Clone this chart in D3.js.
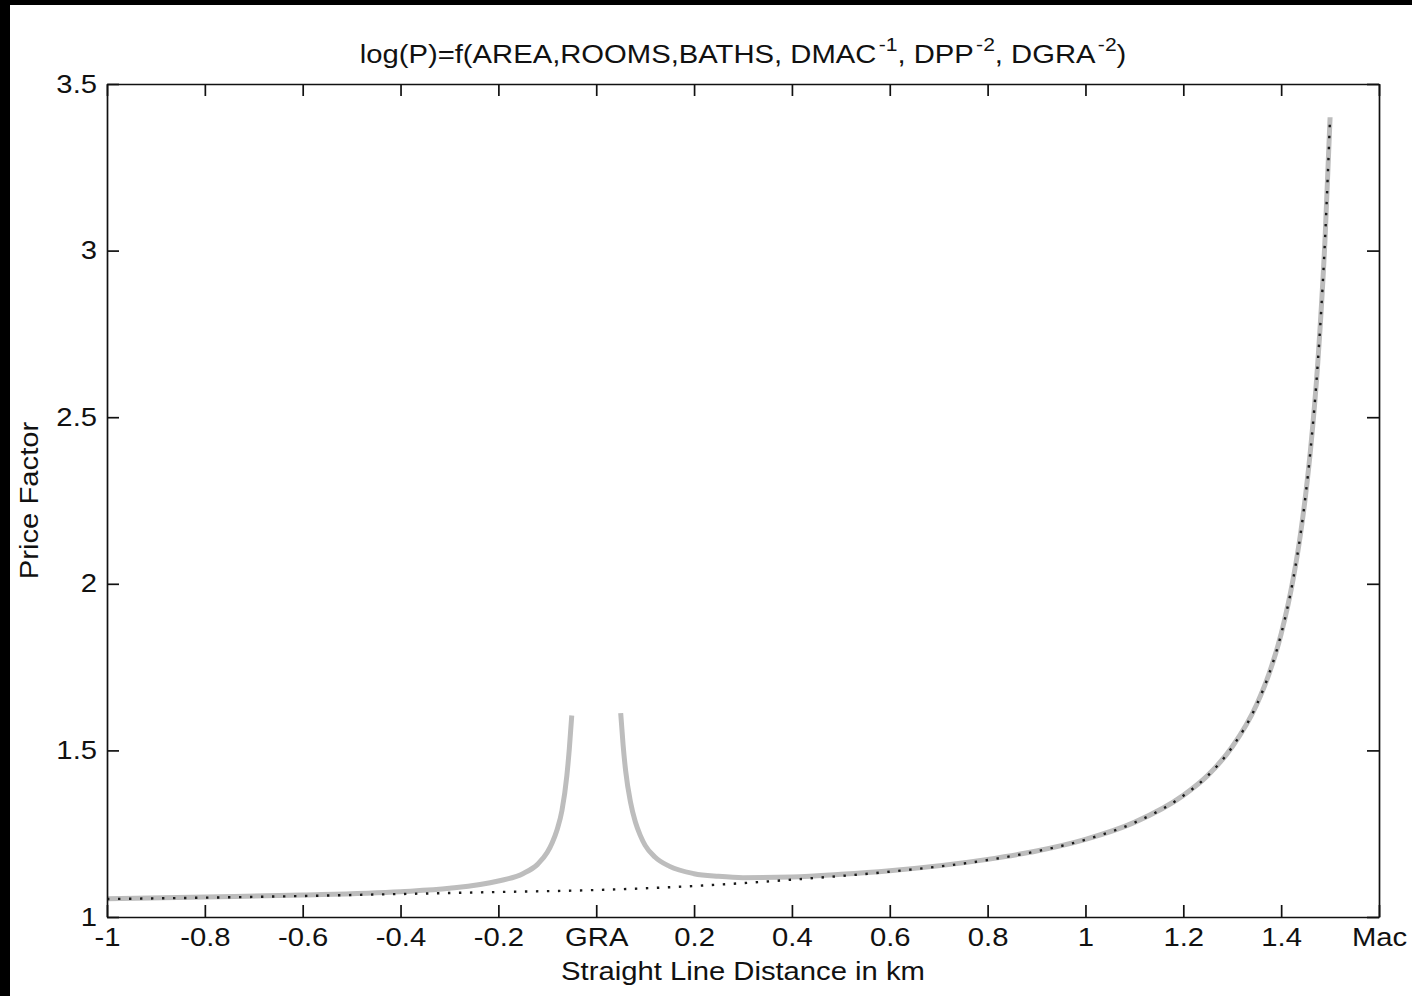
<!DOCTYPE html>
<html>
<head>
<meta charset="utf-8">
<script src="https://cdn.jsdelivr.net/npm/d3@7"></script>
<style>
  body { margin: 0; background: #000; }
  text { font-family: "Liberation Sans", Arial, Helvetica, sans-serif; fill: #111; }
</style>
</head>
<body>
<div id="chart"></div>
<script>
// distance from GRA (km), Mac sits at 1.6
let baseX = [-1, -0.8, -0.6, -0.4, -0.2, 0, 0.2, 0.4, 0.6, 0.8, 0.9, 1.0, 1.1, 1.2, 1.25, 1.3, 1.35, 1.375, 1.4, 1.425, 1.44, 1.45, 1.46, 1.475, 1.49, 1.5];
let baseY = [1.054, 1.058, 1.063, 1.069, 1.075, 1.081, 1.093, 1.112, 1.136, 1.171, 1.197, 1.232, 1.283, 1.364, 1.424, 1.510, 1.637, 1.728, 1.849, 2.017, 2.153, 2.266, 2.401, 2.665, 3.044, 3.400];

let graLeftX = [-1, -0.8, -0.6, -0.4, -0.3, -0.2, -0.15, -0.12, -0.1, -0.09, -0.08, -0.07, -0.06, -0.055, -0.05];
let graLeftY = [1.055, 1.060, 1.066, 1.076, 1.086, 1.108, 1.130, 1.158, 1.194, 1.223, 1.262, 1.320, 1.425, 1.505, 1.605];

let graRightX = [0.05, 0.055, 0.06, 0.07, 0.08, 0.09, 0.1, 0.12, 0.15, 0.2, 0.25, 0.3, 0.4, 0.5, 0.6, 0.8, 0.9, 1.0, 1.1, 1.2, 1.25, 1.3, 1.35, 1.375, 1.4, 1.425, 1.44, 1.45, 1.46, 1.475, 1.49, 1.5];
let graRightY = [1.612, 1.515, 1.440, 1.345, 1.285, 1.245, 1.215, 1.180, 1.152, 1.130, 1.122, 1.118, 1.120, 1.128, 1.139, 1.173, 1.198, 1.233, 1.284, 1.365, 1.425, 1.511, 1.638, 1.729, 1.850, 2.018, 2.154, 2.267, 2.402, 2.666, 3.045, 3.400];

let xTicks = [-1, -0.8, -0.6, -0.4, -0.2, 0, 0.2, 0.4, 0.6, 0.8, 1, 1.2, 1.4, 1.6];
let xTickLabels = ["-1", "-0.8", "-0.6", "-0.4", "-0.2", "GRA", "0.2", "0.4", "0.6", "0.8", "1", "1.2", "1.4", "Mac"];
let yTicks = [1, 1.5, 2, 2.5, 3, 3.5];
let yTickLabels = ["1", "1.5", "2", "2.5", "3", "3.5"];

let W = 1412, H = 996;
let stretch = 1.17;

let svg = d3.select("#chart").append("svg")
    .attr("width", W)
    .attr("height", H)
    .style("display", "block");

// scan border, black at top and left
svg.append("rect").attr("width", W).attr("height", H).attr("fill", "#000");
svg.append("rect").attr("x", 10).attr("y", 5).attr("width", W - 10).attr("height", H - 5).attr("fill", "#fff");

let x = d3.scaleLinear().domain([-1, 1.6]).range([107, 1379]);
let y = d3.scaleLinear().domain([1, 3.5]).range([917, 84]);

let line = d3.line()
    .x(d => x(d[0]))
    .y(d => y(d[1]))
    .curve(d3.curveMonotoneX);

let graLeft = graLeftX.map((v, i) => [v, graLeftY[i]]);
let graRight = graRightX.map((v, i) => [v, graRightY[i]]);
let base = baseX.map((v, i) => [v, baseY[i]]);

[graLeft, graRight].forEach(seg => {
    svg.append("path")
        .attr("d", line(seg))
        .attr("fill", "none")
        .attr("stroke", "#bdbdbd")
        .attr("stroke-width", 5);
});

svg.append("path")
    .attr("d", line(base))
    .attr("fill", "none")
    .attr("stroke", "#1a1a1a")
    .attr("stroke-width", 2.4)
    .attr("stroke-dasharray", "2.4 8.6");

// axes, ticks pointing inward on all four sides
let tickLen = 12;

let gx = svg.append("g")
    .attr("transform", "translate(0," + y(1) + ")")
    .call(d3.axisBottom(x).tickValues(xTicks)
        .tickFormat((d, i) => xTickLabels[i])
        .tickSizeInner(-tickLen).tickSizeOuter(0).tickPadding(11));

let gxt = svg.append("g")
    .attr("transform", "translate(0," + y(3.5) + ")")
    .call(d3.axisTop(x).tickValues(xTicks).tickFormat("")
        .tickSizeInner(-tickLen).tickSizeOuter(0));

let gy = svg.append("g")
    .attr("transform", "translate(" + x(-1) + ",0)")
    .call(d3.axisLeft(y).tickValues(yTicks)
        .tickFormat((d, i) => yTickLabels[i])
        .tickSizeInner(-tickLen).tickSizeOuter(0));

let gyr = svg.append("g")
    .attr("transform", "translate(" + x(1.6) + ",0)")
    .call(d3.axisRight(y).tickValues(yTicks).tickFormat("")
        .tickSizeInner(-tickLen).tickSizeOuter(0));

[gx, gxt, gy, gyr].forEach(g => {
    g.selectAll(".domain").attr("stroke", "#111").attr("stroke-width", 1.7);
    g.selectAll(".tick line").attr("stroke", "#111").attr("stroke-width", 1.7);
});

gx.selectAll("text")
    .style("font-size", "25px")
    .attr("fill", "#111")
    .attr("transform", "scale(" + stretch + ",1)");

gy.selectAll("text")
    .style("font-size", "25px")
    .attr("fill", "#111")
    .attr("x", -10 / stretch)
    .attr("transform", "scale(" + stretch + ",1)");

// x label
svg.append("g")
    .attr("transform", "translate(" + (x(-1) + x(1.6)) / 2 + ",980)")
    .append("text")
    .attr("text-anchor", "middle")
    .attr("transform", "scale(" + stretch + ",1)")
    .style("font-size", "25px")
    .text("Straight Line Distance in km");

// y label
svg.append("g")
    .attr("transform", "translate(38," + (y(1) + y(3.5)) / 2 + ") rotate(-90)")
    .append("text")
    .attr("text-anchor", "middle")
    .attr("transform", "scale(" + stretch + ",1)")
    .style("font-size", "25px")
    .text("Price Factor");

// title with superscripts
let title = svg.append("g")
    .attr("transform", "translate(" + (x(-1) + x(1.6)) / 2 + ",63)")
    .append("text")
    .attr("text-anchor", "middle")
    .attr("transform", "scale(" + stretch + ",1)")
    .style("font-size", "25px");

let parts = [
    ["log(P)=f(AREA,ROOMS,BATHS, DMAC", false],
    ["-1", true],
    [", DPP", false],
    ["-2", true],
    [", DGRA", false],
    ["-2", true],
    [")", false]
];
parts.forEach(p => {
    let t = title.append("tspan").text(p[0]);
    if (p[1]) {
        t.attr("dy", -12).attr("dx", 2).style("font-size", "18px");
    } else if (p[0] !== parts[0][0]) {
        t.attr("dy", 12);
    }
});
</script>
</body>
</html>
